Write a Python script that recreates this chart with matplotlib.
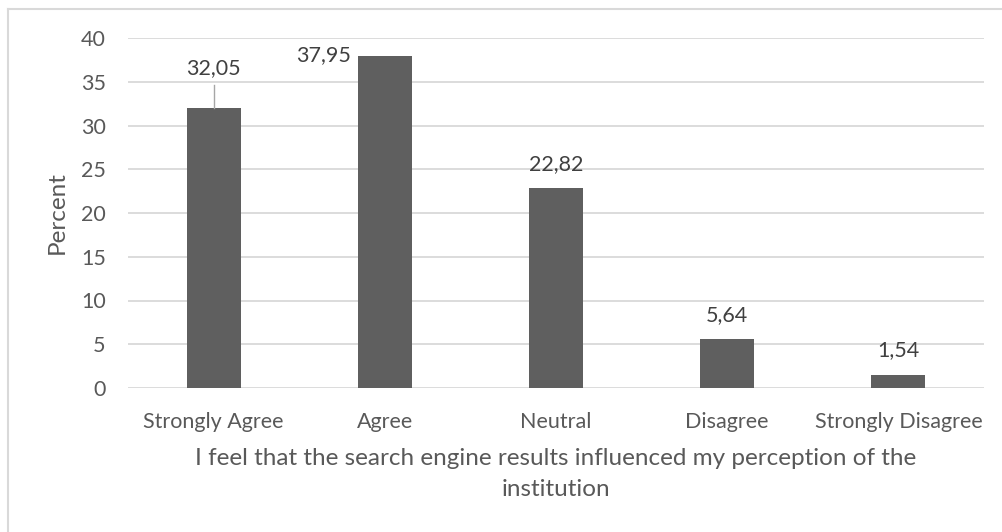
import matplotlib
matplotlib.use("Agg")
import matplotlib.pyplot as plt
from matplotlib.lines import Line2D

# Survey responses (percent of respondents)
categories = ["Strongly Agree", "Agree", "Neutral", "Disagree", "Strongly Disagree"]
percent = [32.05, 37.95, 22.82, 5.64, 1.54]
value_labels = ["32,05", "37,95", "22,82", "5,64", "1,54"]
y_ticks = [0, 5, 10, 15, 20, 25, 30, 35, 40]

plt.rcParams["font.family"] = ["Lato", "DejaVu Sans"]

W, H = 1003, 532
fig = plt.figure(figsize=(W / 100, H / 100), dpi=100)
ax = fig.add_axes([128 / W, 144 / H, (984 - 128) / W, (388 - 38) / H])

bar_color = "#5f5f5f"
text_color = "#595959"
grid_color = "#d9d9d9"
fs = 15.5

x = list(range(len(categories)))
ax.bar(x, percent, width=0.315, color=bar_color, zorder=3)

ax.set_xlim(-0.5, len(categories) - 0.5)
ax.set_ylim(0, 40)
ax.set_yticks(y_ticks)
ax.set_xticks(x)
ax.set_xticklabels(categories)
ax.tick_params(axis="both", length=0, labelsize=fs, labelcolor=text_color)
ax.tick_params(axis="y", pad=16)
ax.tick_params(axis="x", pad=17)
ax.grid(axis="y", color=grid_color, linewidth=1.3, zorder=0)
for s in ax.spines.values():
    s.set_visible(False)

ax.set_ylabel("Percent", fontsize=17.5, color=text_color, va="center")
ax.yaxis.set_label_coords(-0.083, 0.5)
ax.set_xlabel("I feel that the search engine results influenced my perception of the\ninstitution",
              fontsize=17.5, color=text_color, va="center", linespacing=1.55)
ax.xaxis.set_label_coords(0.5, -0.246)

# value labels above the bars
for i, (v, lab) in enumerate(zip(percent, value_labels)):
    if i == 0:
        # label lifted above the bar with a leader line
        ax.plot([i, i], [v, v + 2.55], color="#a6a6a6", linewidth=1, zorder=4)
        ax.text(i, v + 4.5, lab, ha="center", va="center", fontsize=fs, color="#404040")
    elif i == 1:
        ax.text(i - 0.2, v + 0.1, lab, ha="right", va="center", fontsize=fs, color="#404040")
    else:
        ax.annotate(lab, (i, v), xytext=(0, 13), textcoords="offset points",
                    ha="center", va="baseline", fontsize=fs, color="#404040")

# chart area border (left and top edges visible)
fig.add_artist(Line2D([8.5 / W, 8.5 / W], [0, 1 - 8.5 / H], transform=fig.transFigure,
                      color=grid_color, linewidth=1.5))
fig.add_artist(Line2D([8.5 / W, 1], [1 - 8.5 / H, 1 - 8.5 / H], transform=fig.transFigure,
                      color=grid_color, linewidth=1.5))

fig.savefig("out.png", dpi=100)
